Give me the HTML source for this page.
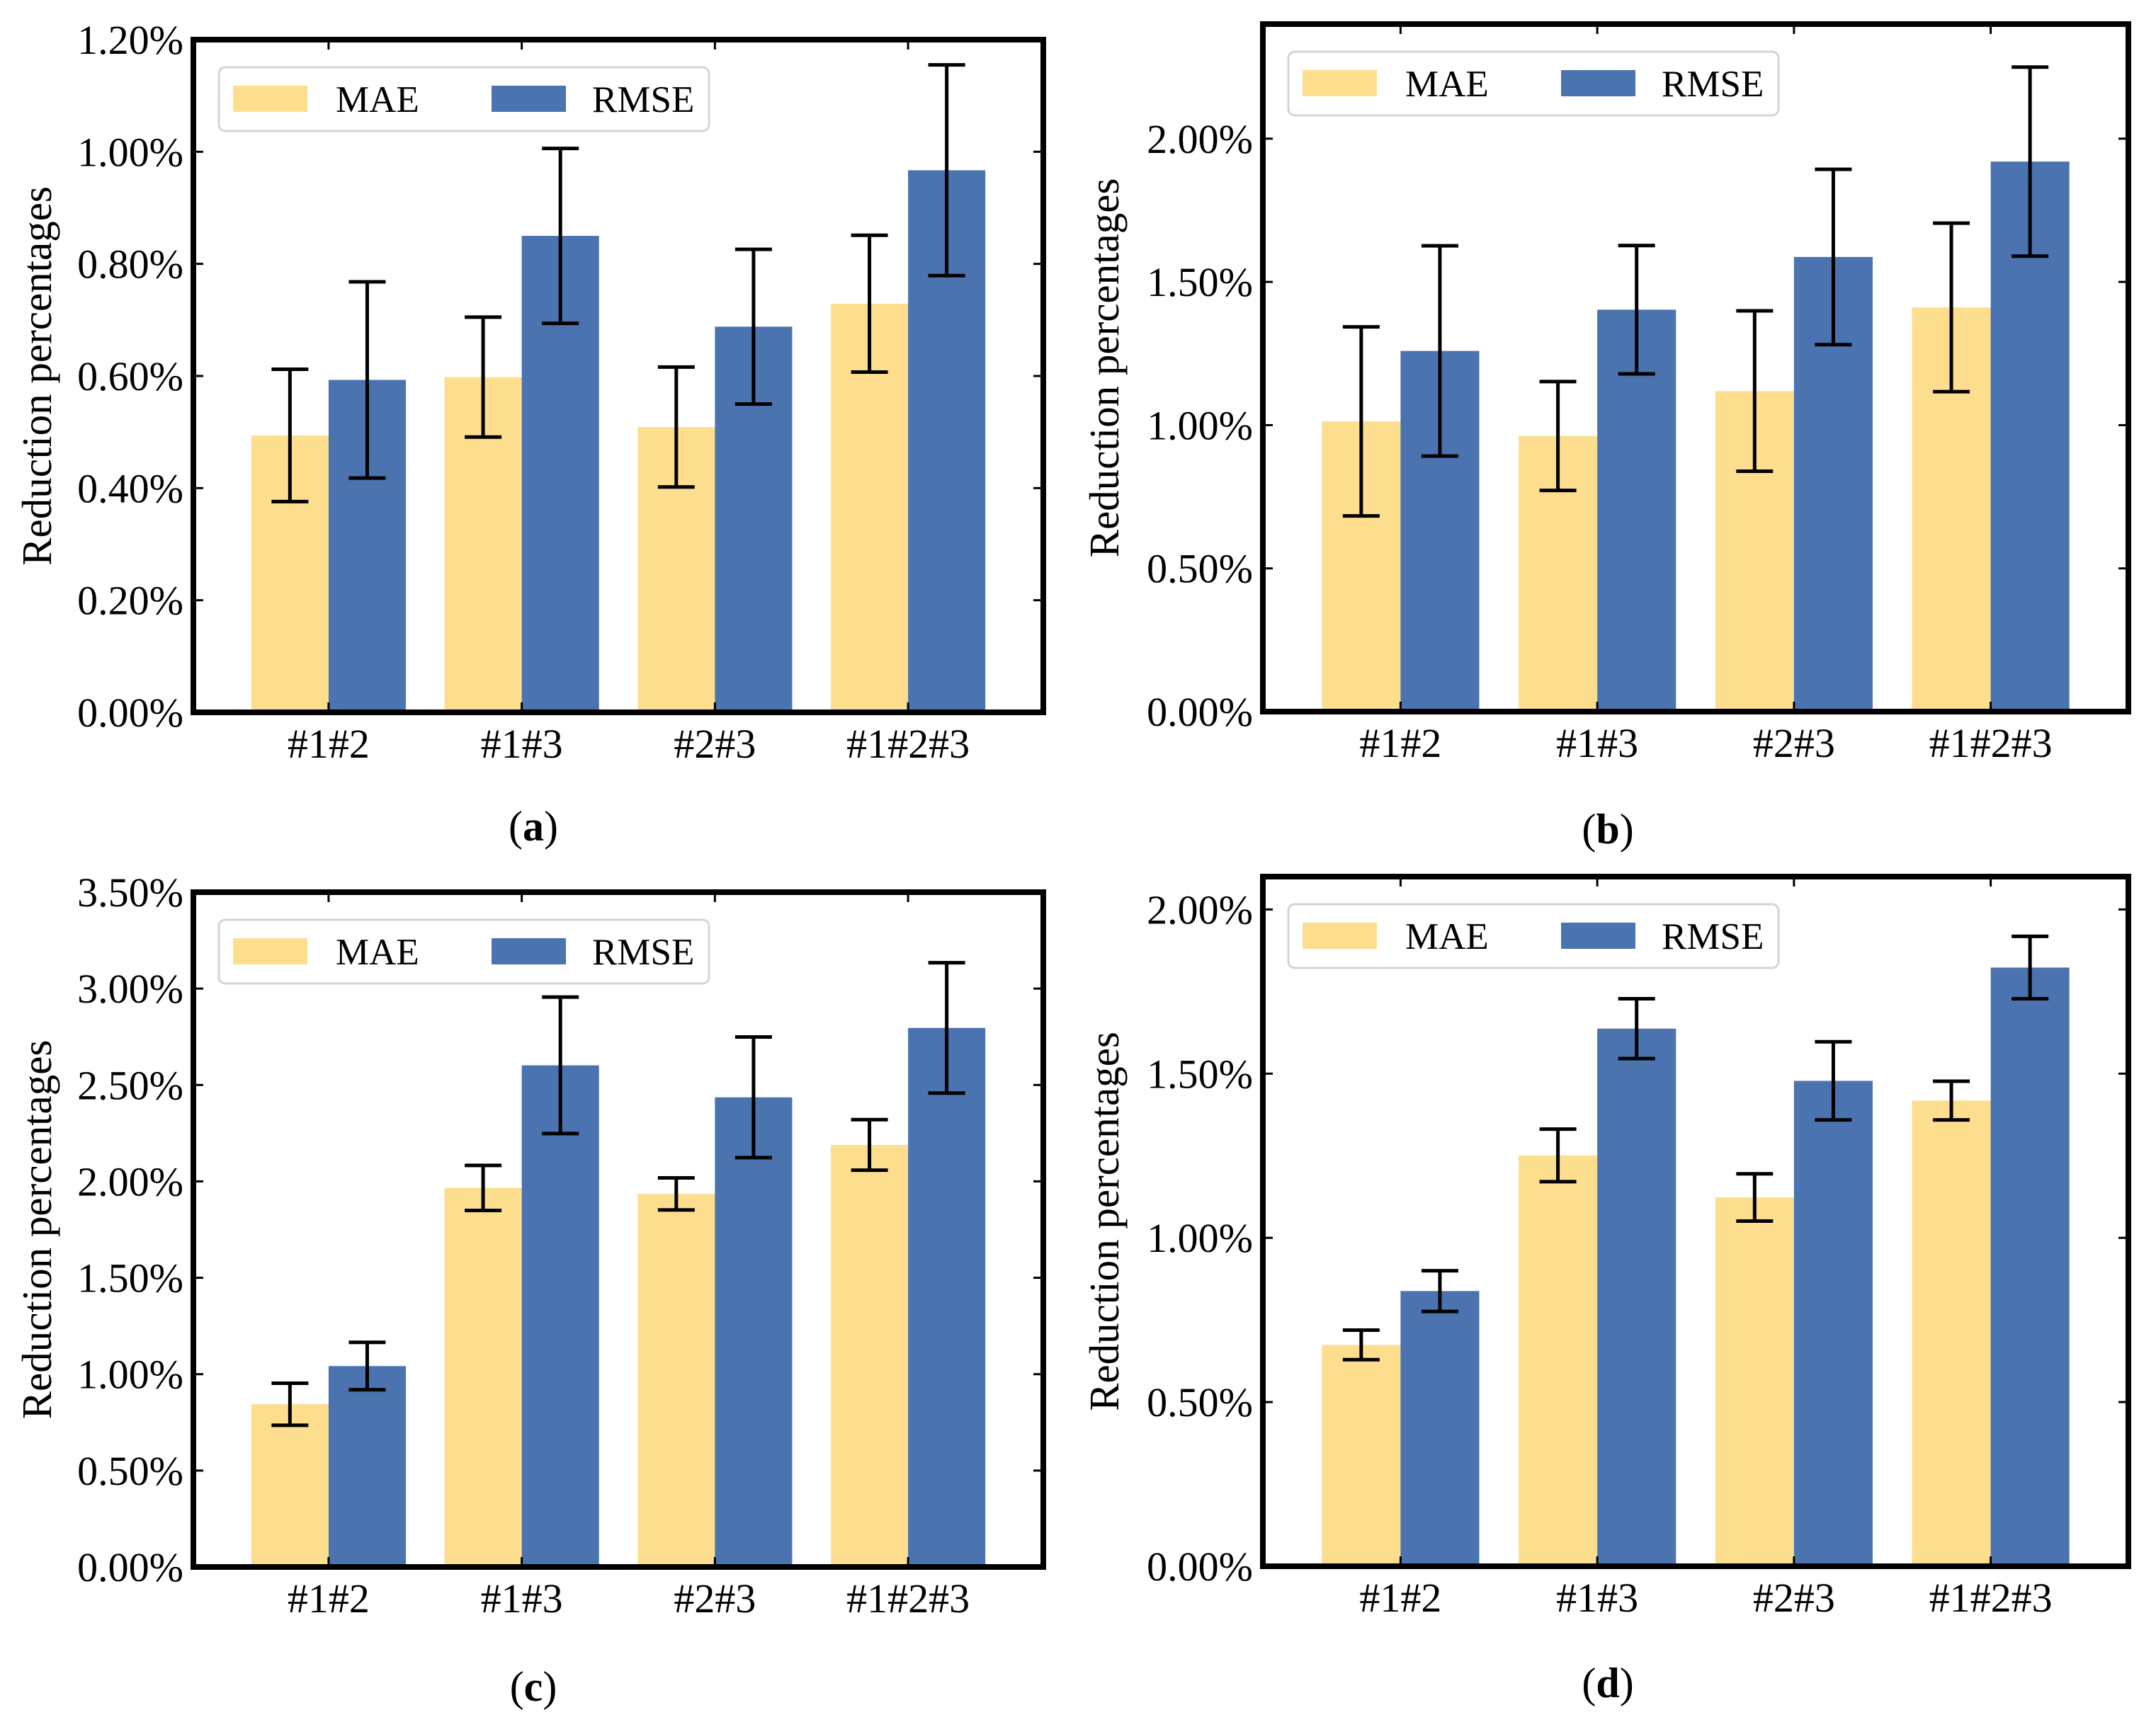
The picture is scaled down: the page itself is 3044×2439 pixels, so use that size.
<!DOCTYPE html>
<html>
<head>
<meta charset="utf-8">
<style>
  html, body { margin: 0; padding: 0; background: #ffffff; }
  body { width: 3044px; height: 2439px; overflow: hidden; }
  svg { display: block; font-family: "Liberation Serif", "Times New Roman", serif; }
</style>
</head>
<body>
<svg id="fig" width="3044" height="2439" viewBox="0 0 3044 2439" xmlns="http://www.w3.org/2000/svg"></svg>
<script>
// ---- Shared data ----
const categories = ["#1#2", "#1#3", "#2#3", "#1#2#3"];
const seriesNames = ["MAE", "RMSE"];

// Panel (a)
const maeA = [0.494, 0.598, 0.509, 0.729];
const rmseA = [0.593, 0.850, 0.688, 0.967];
const maeErrA = [0.118, 0.107, 0.107, 0.122];
const rmseErrA = [0.175, 0.156, 0.138, 0.188];
const ticksA = [0, 0.2, 0.4, 0.6, 0.8, 1.0, 1.2];
const tickLabelsA = ["0.00%", "0.20%", "0.40%", "0.60%", "0.80%", "1.00%", "1.20%"];

// Panel (b)
const maeB = [1.013, 0.962, 1.119, 1.411];
const rmseB = [1.259, 1.403, 1.587, 1.920];
const maeErrB = [0.330, 0.190, 0.280, 0.294];
const rmseErrB = [0.367, 0.224, 0.306, 0.330];
const ticksB = [0, 0.5, 1.0, 1.5, 2.0];
const tickLabelsB = ["0.00%", "0.50%", "1.00%", "1.50%", "2.00%"];

// Panel (c)
const maeC = [0.844, 1.966, 1.935, 2.189];
const rmseC = [1.042, 2.602, 2.436, 2.796];
const maeErrC = [0.109, 0.117, 0.083, 0.131];
const rmseErrC = [0.123, 0.354, 0.313, 0.338];
const ticksC = [0, 0.5, 1.0, 1.5, 2.0, 2.5, 3.0, 3.5];
const tickLabelsC = ["0.00%", "0.50%", "1.00%", "1.50%", "2.00%", "2.50%", "3.00%", "3.50%"];

// Panel (d)
const maeD = [0.674, 1.251, 1.123, 1.418];
const rmseD = [0.838, 1.637, 1.478, 1.823];
const maeErrD = [0.045, 0.080, 0.072, 0.059];
const rmseErrD = [0.062, 0.091, 0.119, 0.095];
const ticksD = [0, 0.5, 1.0, 1.5, 2.0];
const tickLabelsD = ["0.00%", "0.50%", "1.00%", "1.50%", "2.00%"];

const MAE_COLOR = "#FDDE8F";
const RMSE_COLOR = "#4A73B0";
const NS = "http://www.w3.org/2000/svg";
const svg = document.getElementById("fig");

function mk(tag, attrs, parent) {
  const e = document.createElementNS(NS, tag);
  for (const k in attrs) e.setAttribute(k, attrs[k]);
  (parent || svg).appendChild(e);
  return e;
}

function drawPanel(p) {
  const g = mk("g", {});
  
  
  const L = p.left, R = p.right, T = p.top, B = p.bottom;
  const xMin = -0.7, xMax = 3.7;
  const xs = v => L + (v - xMin) / (xMax - xMin) * (R - L);
  const ys = v => B - (v - p.ymin) / (p.ymax - p.ymin) * (B - T);
  const bw = 0.4;

  // bars
  const series = [[p.mae, p.maeErr, MAE_COLOR, -bw / 2, "mae"], [p.rmse, p.rmseErr, RMSE_COLOR, bw / 2, "rmse"]];
  series.forEach(s => {
    s[0].forEach((v, i) => {
      const x0 = xs(i + s[3] - bw / 2), x1 = xs(i + s[3] + bw / 2);
      const r = mk("rect", { x: x0, y: ys(v), width: x1 - x0, height: ys(0) - ys(v), fill: s[2] }, g);
      
      
    });
  });
  // error bars
  series.forEach(s => {
    s[0].forEach((v, i) => {
      const cx = xs(i + s[3]);
      const hi = ys(v + s[1][i]), lo = ys(v - s[1][i]);
      const eg = mk("g", { stroke: "#000", "stroke-width": 5 }, g);
      
      
      mk("line", { x1: cx, x2: cx, y1: hi, y2: lo }, eg);
      mk("line", { x1: cx - 26, x2: cx + 26, y1: hi, y2: hi }, eg);
      mk("line", { x1: cx - 26, x2: cx + 26, y1: lo, y2: lo }, eg);
    });
  });

  // ticks (inward, all sides)
  const tg = mk("g", { stroke: "#000", "stroke-width": 3 }, g);
  
  
  p.ticks.forEach(t => {
    const y = ys(t);
    mk("line", { x1: L, x2: L + 14, y1: y, y2: y }, tg);
    mk("line", { x1: R - 14, x2: R, y1: y, y2: y }, tg);
  });
  categories.forEach((c, i) => {
    const x = xs(i);
    mk("line", { x1: x, x2: x, y1: B, y2: B - 14 }, tg);
    mk("line", { x1: x, x2: x, y1: T, y2: T + 14 }, tg);
  });

  // frame
  const fr = mk("rect", { x: L, y: T, width: R - L, height: B - T, fill: "none", stroke: "#000", "stroke-width": 8 }, g);
  
  

  // y tick labels
  p.ticks.forEach((t, i) => {
    const tx = mk("text", { x: L - 14, y: ys(t) + 20, "text-anchor": "end", "font-size": 58, fill: "#000" }, g);
    tx.textContent = p.tickLabels[i];
    
    
  });
  // x tick labels
  categories.forEach((c, i) => {
    const tx = mk("text", { x: xs(i), y: B + 64, "text-anchor": "middle", "font-size": 58, fill: "#000" }, g);
    tx.textContent = c;
    
    
  });
  // y axis title
  const cy = (T + B) / 2;
  const yt = mk("text", { x: p.ylabelX, y: cy, "text-anchor": "middle", "font-size": 59, fill: "#000", transform: "rotate(-90 " + p.ylabelX + " " + cy + ")" }, g);
  yt.textContent = "Reduction percentages";
  
  

  // legend
  const lx = L + 36, ly = T + 39;
  const lg = mk("g", {}, g);
  
  
  mk("rect", { x: lx, y: ly, width: 692, height: 90, rx: 9, fill: "#fff", stroke: "#d4d4d4", "stroke-width": 3 }, lg);
  const ent = [[MAE_COLOR, "MAE", 20, 165], [RMSE_COLOR, "RMSE", 385, 527]];
  ent.forEach(e => {
    const eg = mk("g", {}, lg);
    
    
    mk("rect", { x: lx + e[2], y: ly + 26, width: 105, height: 37, fill: e[0] }, eg);
    const t = mk("text", { x: lx + e[3], y: ly + 63, "font-size": 53, fill: "#000" }, eg);
    t.textContent = e[1];
  });

  // caption
  const cap = mk("text", { x: p.capX, y: p.capY + 20, "text-anchor": "middle", "font-size": 60, fill: "#000" }, g);
  
  
  const o = mk("tspan", {}, cap); o.textContent = "(";
  const b = mk("tspan", { "font-weight": "bold" }, cap); b.textContent = p.id;
  const c = mk("tspan", {}, cap); c.textContent = ")";
}

drawPanel({ id: "a", left: 273, right: 1473, top: 56, bottom: 1006, ymin: 0, ymax: 1.2,
  mae: maeA, rmse: rmseA, maeErr: maeErrA, rmseErr: rmseErrA, ticks: ticksA, tickLabels: tickLabelsA,
  ylabelX: 72, capX: 753, capY: 1167 });
drawPanel({ id: "b", left: 1783, right: 3005, top: 34, bottom: 1005, ymin: 0, ymax: 2.4,
  mae: maeB, rmse: rmseB, maeErr: maeErrB, rmseErr: rmseErrB, ticks: ticksB, tickLabels: tickLabelsB,
  ylabelX: 1579, capX: 2270, capY: 1171 });
drawPanel({ id: "c", left: 273, right: 1473, top: 1260, bottom: 2213, ymin: 0, ymax: 3.5,
  mae: maeC, rmse: rmseC, maeErr: maeErrC, rmseErr: rmseErrC, ticks: ticksC, tickLabels: tickLabelsC,
  ylabelX: 72, capX: 753, capY: 2382 });
drawPanel({ id: "d", left: 1783, right: 3005, top: 1238, bottom: 2212, ymin: 0, ymax: 2.1,
  mae: maeD, rmse: rmseD, maeErr: maeErrD, rmseErr: rmseErrD, ticks: ticksD, tickLabels: tickLabelsD,
  ylabelX: 1579, capX: 2270, capY: 2377 });
</script>
</body>
</html>
